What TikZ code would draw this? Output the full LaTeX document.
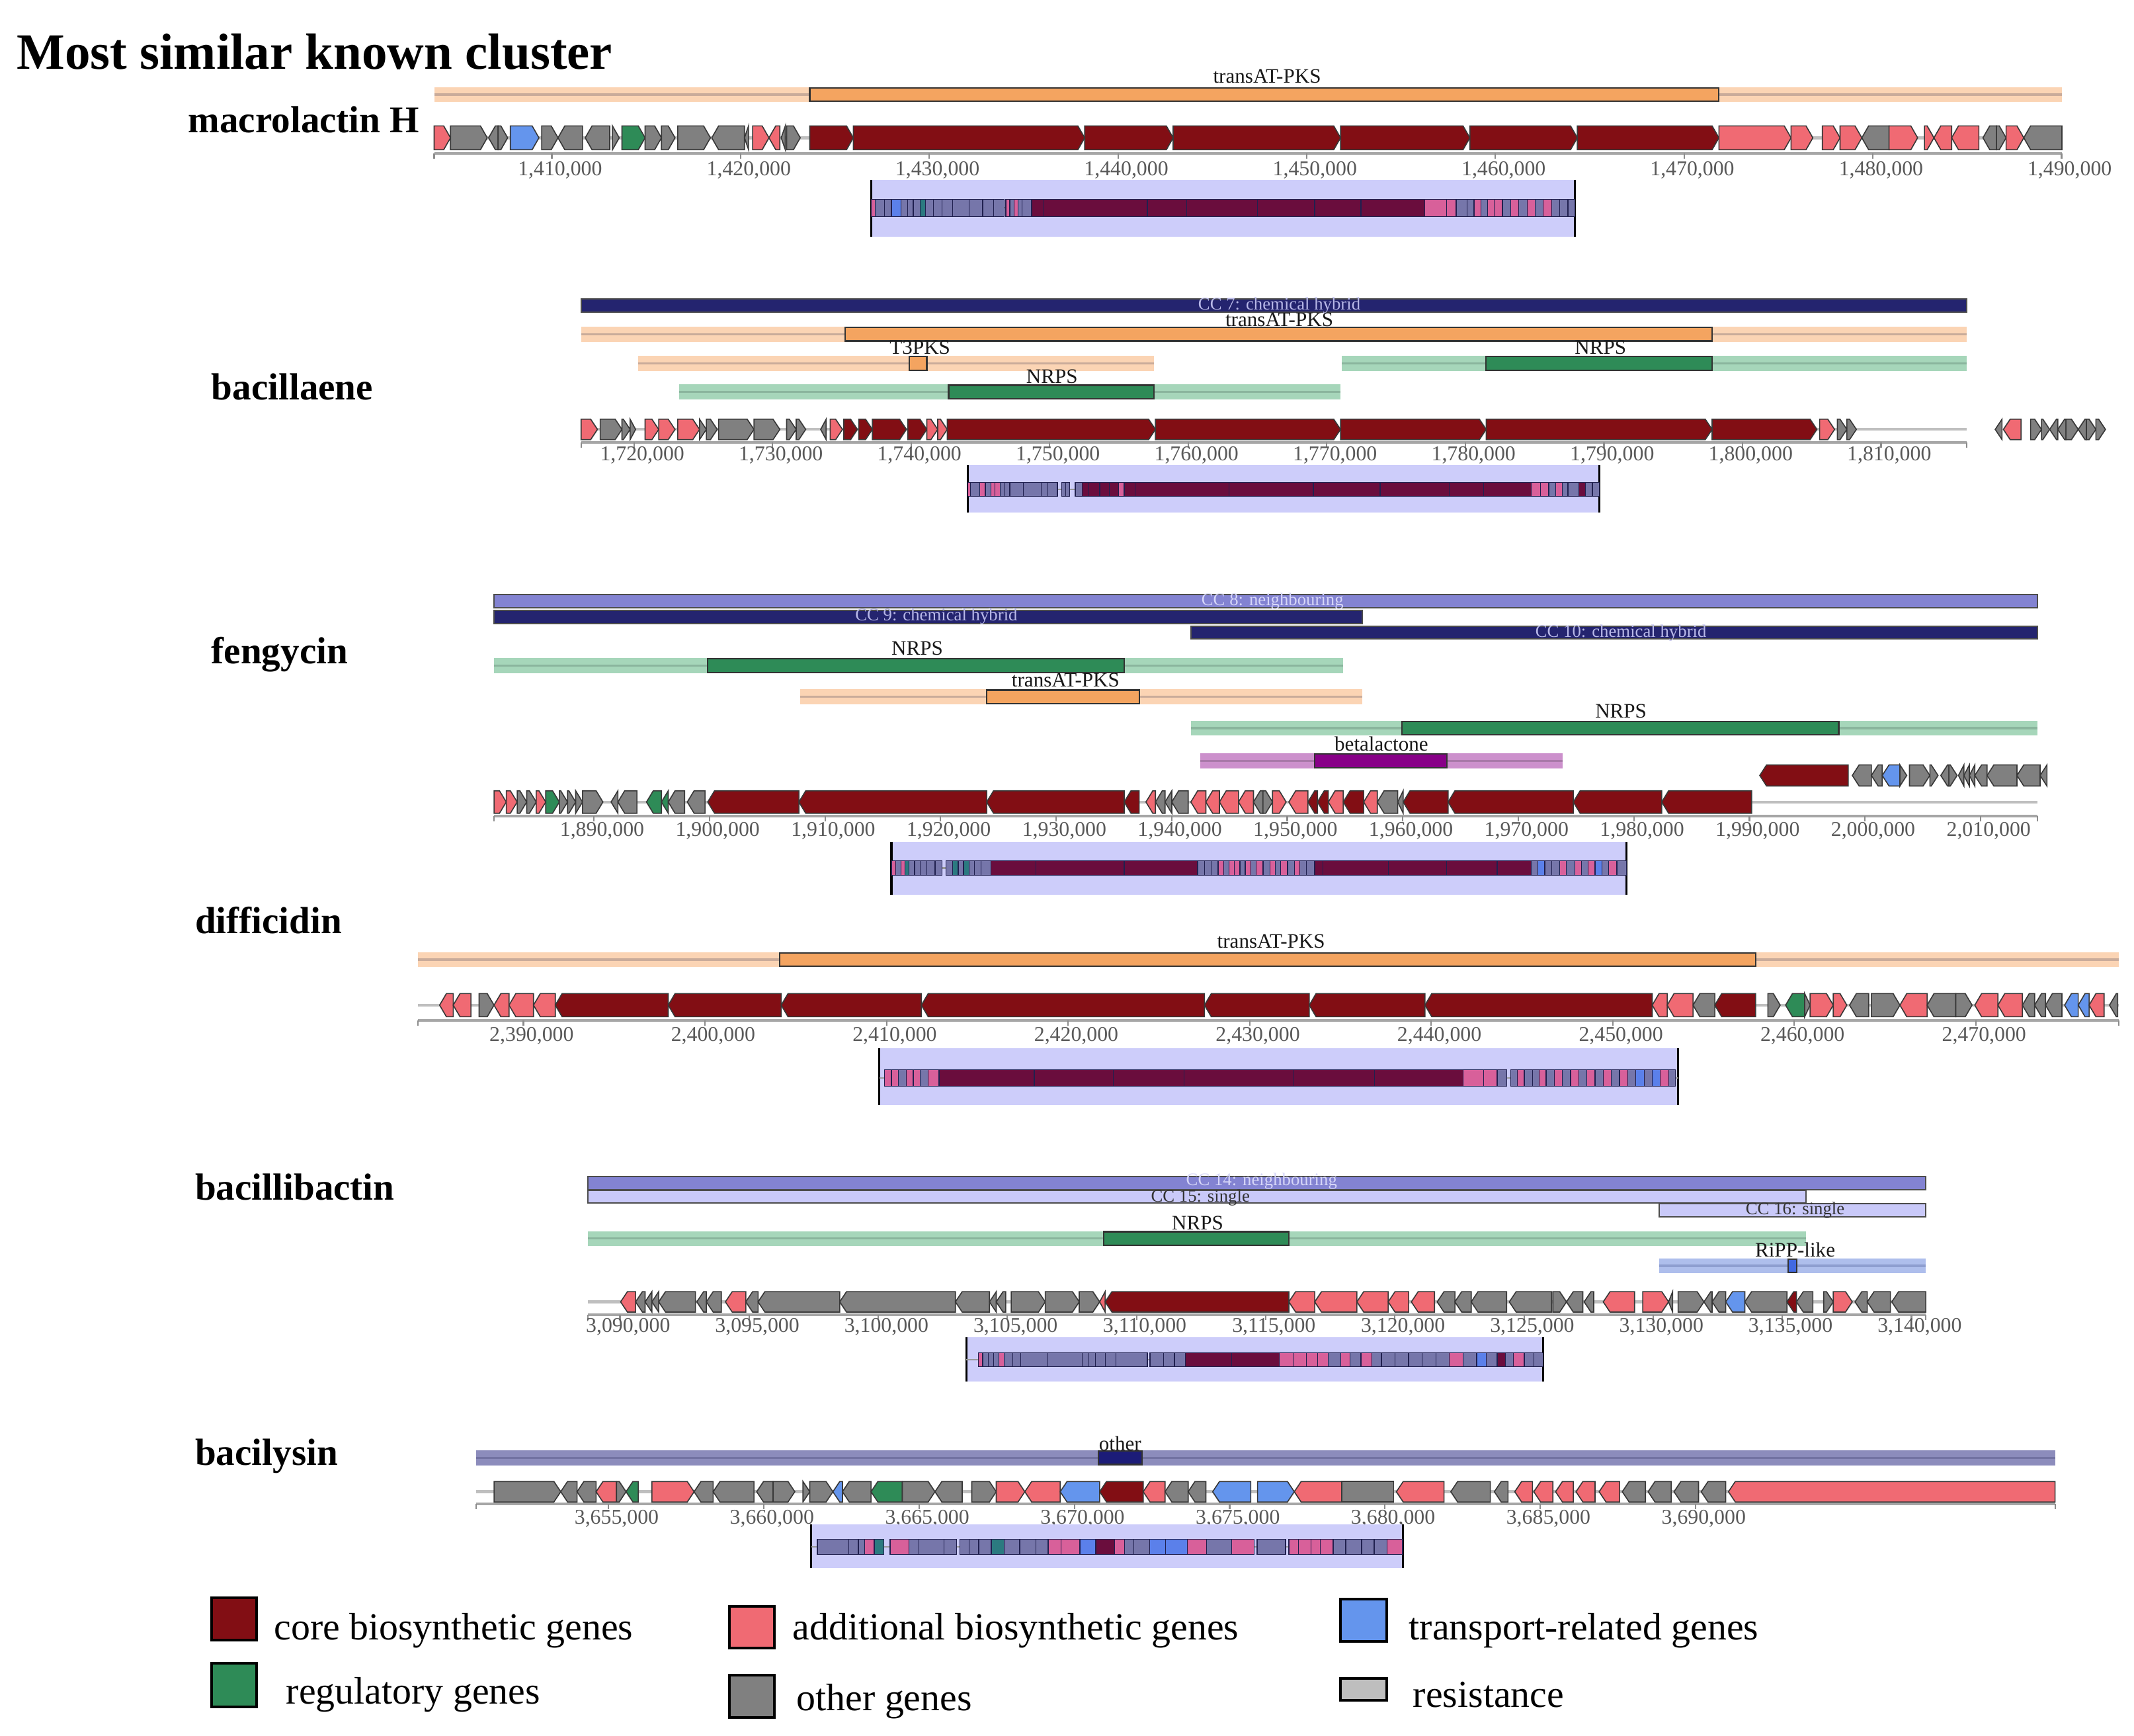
\documentclass[tikz,border=0pt]{standalone}
\usepackage{fontspec}
\setmainfont{Liberation Serif}
\definecolor{cC}{HTML}{820E14}
\definecolor{cP}{HTML}{F06A73}
\definecolor{cG}{HTML}{808080}
\definecolor{cB}{HTML}{6495ED}
\definecolor{cGr}{HTML}{2E8B57}
\definecolor{cR}{HTML}{BEBEBE}
\definecolor{lOr}{HTML}{FBD4B4}
\definecolor{lOrL}{HTML}{C9AB9A}
\definecolor{dOr}{HTML}{F4A460}
\definecolor{lGn}{HTML}{A6D6BA}
\definecolor{lGnL}{HTML}{8AB59D}
\definecolor{dGn}{HTML}{2E8B57}
\definecolor{navyC}{HTML}{24246F}
\definecolor{nbC}{HTML}{8383D2}
\definecolor{sgC}{HTML}{C9C9F9}
\definecolor{lPu}{HTML}{CC90CC}
\definecolor{lPuL}{HTML}{A878A8}
\definecolor{dPu}{HTML}{880088}
\definecolor{lBl}{HTML}{AEBEEC}
\definecolor{lBlL}{HTML}{8E9ED0}
\definecolor{dBl}{HTML}{4169E1}
\definecolor{otC}{HTML}{8C8CBC}
\definecolor{otL}{HTML}{7272A2}
\definecolor{otD}{HTML}{1C1C78}
\definecolor{lav}{HTML}{CDCDFA}
\definecolor{sN}{HTML}{20204F}
\definecolor{sC}{HTML}{6A0D3D}
\definecolor{sP}{HTML}{D8609A}
\definecolor{sL}{HTML}{7676AA}
\definecolor{sB}{HTML}{5B80EA}
\definecolor{sT}{HTML}{2B7A80}
\definecolor{ccTxt}{HTML}{B8B8E8}
\definecolor{nbTxt}{HTML}{D6D6F8}
\tikzset{
  gene/.style={draw=black!78,line width=0.45pt,line join=miter},
  tickl/.style={draw=black!45,line width=0.6pt},
  axisl/.style={draw=black!35,line width=1.1pt},
  bbone/.style={draw=black!25,line width=1.2pt},
  tlab/.style={font=\fontsize{8.8}{10}\selectfont,text=black!65,inner sep=0pt},
  blab/.style={font=\fontsize{8.6}{10}\selectfont,text=black!90,inner sep=0pt},
  cclab/.style={font=\fontsize{7.4}{8}\selectfont,inner sep=0pt},
  cname/.style={font=\bfseries\fontsize{15.8}{18}\selectfont,anchor=west,inner sep=0pt},
  legt/.style={font=\fontsize{16}{19}\selectfont,anchor=west,inner sep=0pt},
  legsq/.style={draw=black,line width=1.1pt},
}
\def\ah{5}
\newcommand\GR[3]{\filldraw[gene,fill=#3] (#1,\grt) -- ({max(#1,#2-\ah)},\grt) -- (#2,\grm) -- ({max(#1,#2-\ah)},\grb) -- (#1,\grb) -- cycle;}
\newcommand\GL[3]{\filldraw[gene,fill=#3] (#2,\grt) -- ({min(#2,#1+\ah)},\grt) -- (#1,\grm) -- ({min(#2,#1+\ah)},\grb) -- (#2,\grb) -- cycle;}
\newcommand\GB[3]{\filldraw[gene,fill=#3] (#1,\grt) rectangle (#2,\grb);}
\newcommand\RowY[2]{\def\grt{#1}\def\grb{#2}\pgfmathsetmacro\grm{(#1+#2)/2}}
\newcommand\SG[3]{\filldraw[draw=sN,line width=0.35pt,fill=#3] (#1,\srt) rectangle (#2,\srb);}
\newcommand\StripY[2]{\def\srt{#1}\def\srb{#2}}
\newcommand\LBar[5]{\fill[#4] (#2,#1-5.5) rectangle (#3,#1+5.5); \draw[#5,line width=0.9pt] (#2,#1) -- (#3,#1);}
\newcommand\DBox[4]{\filldraw[draw=black!80,line width=0.6pt,fill=#4] (#2,#1-5) rectangle (#3,#1+5);}
\newcommand\Lav[4]{\fill[lav] (#1,#3) rectangle (#2,#4); \draw[black,line width=0.9pt] (#1,#3) -- (#1,#4) (#2,#3) -- (#2,#4);}
\newcommand\AxisL[3]{\draw[axisl] (#1,#3) -- (#2,#3); \draw[tickl] (#1,#3) -- (#1,#3+4) (#2,#3) -- (#2,#3+4);}
\begin{document}
\begin{tikzpicture}[x=0.02cm,y=-0.02cm]
\useasboundingbox (0,0) rectangle (1568,1275);
\fill[white] (0,0) rectangle (1568,1275);

\node[anchor=west,inner sep=0pt,font=\bfseries\fontsize{21.3}{24}\selectfont] (title) at (12,38) {Most similar known cluster};

%% ================= macrolactin H =================
\node[cname] (n1) at (138,88) {macrolactin H};
\LBar{69.5}{319}{1515}{lOr}{lOrL}
\DBox{69.5}{595}{1263}{dOr}
\node[blab] (m1) at (931,56) {transAT-PKS};
\draw[bbone] (319,101.25) -- (1515,101.25);
\RowY{92.5}{110}
\GR{319}{331}{cP}\GR{331}{358}{cG}\GL{359}{366}{cG}\GR{366}{373}{cG}\GR{375}{396}{cB}
\GR{398}{410}{cG}\GL{410}{428}{cG}\GL{430}{448}{cG}\GR{450}{455}{cG}\GR{457}{474}{cGr}
\GR{474}{486}{cG}\GR{486}{496}{cG}\GR{498}{522}{cG}\GL{523}{547}{cG}\GL{547}{550}{cG}
\GR{553}{565}{cP}\GL{565}{573}{cP}\GL{574}{577}{cG}\GR{578}{588}{cG}
\GR{595}{627}{cC}\GR{627}{797}{cC}\GR{797}{862}{cC}\GR{862}{985}{cC}\GR{985}{1080}{cC}
\GR{1080}{1159}{cC}\GR{1159}{1263}{cC}
\GR{1263}{1316}{cP}\GR{1316}{1332}{cP}\GR{1339}{1352}{cP}\GR{1352}{1368}{cP}\GL{1368}{1388}{cG}
\GR{1388}{1409}{cP}\GR{1414}{1421}{cP}\GL{1421}{1434}{cP}\GL{1434}{1454}{cP}\GL{1457}{1467}{cG}
\GR{1467}{1474}{cG}\GR{1474}{1487}{cP}\GL{1487}{1515}{cG}
\AxisL{319}{1515}{112.5}
\foreach \x/\t in {405.5/{1,410,000},544.2/{1,420,000},682.8/{1,430,000},821.5/{1,440,000},960.1/{1,450,000},1098.8/{1,460,000},1237.4/{1,470,000},1376.1/{1,480,000},1514.7/{1,490,000}}
 {\draw[tickl] (\x,112.5) -- (\x,116.5); \node[tlab] at (\x+6,125) {\t};}
\Lav{640}{1157}{132}{174}
\draw[black!40,line width=0.6pt] (640,152.75) -- (1157,152.75);
\StripY{146.5}{159}
\SG{640}{643}{sP}\SG{643}{650}{sL}\SG{650}{655}{sL}\SG{655}{662}{sB}\SG{662}{667}{sL}\SG{667}{671}{sL}\SG{671}{676}{sL}\SG{676}{680}{sT}\SG{680}{686}{sL}\SG{686}{692}{sL}\SG{692}{700}{sL}\SG{700}{712}{sL}\SG{712}{722}{sL}\SG{722}{730}{sL}\SG{730}{738}{sL}\SG{739}{742}{sP}\SG{742}{745}{sL}\SG{745}{748}{sP}\SG{748}{751}{sL}\SG{751}{758}{sL}
\SG{758}{767}{sC}\SG{767}{843}{sC}\SG{843}{872}{sC}\SG{872}{924}{sC}\SG{924}{966}{sC}\SG{966}{1000}{sC}\SG{1000}{1047}{sC}
\SG{1047}{1063}{sP}\SG{1063}{1070}{sP}\SG{1070}{1078}{sL}\SG{1078}{1083}{sL}\SG{1083}{1088}{sP}\SG{1088}{1093}{sL}\SG{1093}{1098}{sP}\SG{1098}{1104}{sP}\SG{1104}{1110}{sL}\SG{1110}{1116}{sP}\SG{1116}{1122}{sL}\SG{1122}{1128}{sP}\SG{1128}{1134}{sL}\SG{1134}{1140}{sP}\SG{1140}{1146}{sL}\SG{1146}{1152}{sL}\SG{1152}{1157}{sL}

%% ================= bacillaene =================
\node[cname] (n2) at (155,284) {bacillaene};
\filldraw[draw=black!70,line width=0.5pt,fill=navyC] (427,219.5) rectangle (1445,229.5);
\node[cclab,text=ccTxt] (b0) at (940,224.5) {CC 7: chemical hybrid};
\LBar{245.5}{427}{1445}{lOr}{lOrL}
\DBox{245.5}{621}{1258}{dOr}
\node[blab] (b1) at (940,235) {transAT-PKS};
\LBar{267}{469}{848}{lOr}{lOrL}
\DBox{267}{668}{681}{dOr}
\node[blab] (b2) at (676,255.5) {T3PKS};
\LBar{267}{986}{1445}{lGn}{lGnL}
\DBox{267}{1092}{1258}{dGn}
\node[blab] (b3) at (1176,255.5) {NRPS};
\LBar{288}{499}{985}{lGn}{lGnL}
\DBox{288}{697}{848}{dGn}
\node[blab] (b4) at (773,276.5) {NRPS};
\draw[bbone] (427,315.5) -- (1445,315.5);
\RowY{308}{323}
\GR{427}{439}{cP}\GR{441}{457}{cG}\GR{457}{463}{cG}\GR{463}{467}{cG}\GR{474}{484}{cP}\GR{484}{496}{cP}
\GR{498}{514}{cP}\GR{514}{519}{cG}\GR{519}{527}{cG}\GR{528}{554}{cG}\GR{554}{573}{cG}\GR{578}{585}{cG}
\GR{585}{592}{cG}\GL{603}{607}{cG}\GR{610}{619}{cP}\GR{620}{630}{cC}\GR{631}{641}{cC}\GR{641}{666}{cC}
\GR{667}{681}{cC}\GR{681}{689}{cP}\GR{689}{696}{cP}\GR{696}{849}{cC}\GR{849}{985}{cC}\GR{985}{1092}{cC}
\GR{1092}{1258}{cC}\GR{1258}{1335}{cC}\GR{1337}{1348}{cP}\GR{1350}{1357}{cG}\GR{1357}{1364}{cG}
\GL{1466}{1471}{cG}\GL{1472}{1485}{cP}\GR{1492}{1500}{cG}\GR{1500}{1506}{cG}\GL{1506}{1512}{cG}
\GL{1512}{1518}{cG}\GR{1518}{1527}{cG}\GL{1527}{1533}{cG}\GR{1533}{1540}{cG}\GR{1540}{1547}{cG}
\AxisL{427}{1445}{325}
\foreach \x/\t in {465.9/{1,720,000},567.7/{1,730,000},669.5/{1,740,000},771.3/{1,750,000},873.1/{1,760,000},974.9/{1,770,000},1076.7/{1,780,000},1178.5/{1,790,000},1280.3/{1,800,000},1382.1/{1,810,000}}
 {\draw[tickl] (\x,325) -- (\x,329); \node[tlab] at (\x+6,334.5) {\t};}
\Lav{711}{1175}{341.5}{376.5}
\draw[black!40,line width=0.6pt] (711,359.5) -- (1175,359.5);
\StripY{354.5}{364.5}
\SG{711}{713}{sP}\SG{713}{720}{sL}\SG{720}{724}{sP}\SG{724}{728}{sL}\SG{728}{731}{sP}\SG{731}{735}{sP}\SG{735}{738}{sL}\SG{738}{742}{sL}\SG{742}{752}{sL}\SG{752}{765}{sL}\SG{765}{770}{sL}\SG{770}{777}{sL}\SG{780}{783}{sL}\SG{783}{786}{sL}\SG{790}{795}{sL}
\SG{795}{800}{sC}\SG{800}{808}{sC}\SG{808}{815}{sC}\SG{815}{822}{sC}\SG{822}{826}{sP}\SG{826}{834}{sC}
\SG{834}{903}{sC}\SG{903}{965}{sC}\SG{965}{1014}{sC}\SG{1014}{1065}{sC}\SG{1065}{1090}{sC}\SG{1090}{1125}{sC}
\SG{1125}{1132}{sP}\SG{1132}{1138}{sP}\SG{1138}{1143}{sL}\SG{1143}{1148}{sP}\SG{1148}{1152}{sL}\SG{1152}{1160}{sL}\SG{1160}{1165}{sC}\SG{1165}{1170}{sL}\SG{1170}{1175}{sL}

%% ================= fengycin =================
\node[cname] (n3) at (155,481) {fengycin};
\filldraw[draw=black!70,line width=0.5pt,fill=nbC] (363,437) rectangle (1497,446.5);
\node[cclab,text=nbTxt] (f0) at (935,441.5) {CC 8: neighbouring};
\filldraw[draw=black!70,line width=0.5pt,fill=navyC] (363,448.5) rectangle (1001,458);
\node[cclab,text=ccTxt] (f1) at (688,453) {CC 9: chemical hybrid};
\filldraw[draw=black!70,line width=0.5pt,fill=navyC] (875,460) rectangle (1497,469.5);
\node[cclab,text=ccTxt] (f2) at (1191,465) {CC 10: chemical hybrid};
\LBar{489}{363}{987}{lGn}{lGnL}
\DBox{489}{520}{826}{dGn}
\node[blab] (f3) at (674,476.5) {NRPS};
\LBar{512}{588}{1001}{lOr}{lOrL}
\DBox{512}{725}{837}{dOr}
\node[blab] (f4) at (783,499.5) {transAT-PKS};
\LBar{535}{875}{1497}{lGn}{lGnL}
\DBox{535}{1030}{1351}{dGn}
\node[blab] (f5) at (1191,522.5) {NRPS};
\LBar{559}{882}{1148}{lPu}{lPuL}
\DBox{559}{966}{1063}{dPu}
\node[blab] (f6) at (1015,546.5) {betalactone};
\RowY{562}{577.5}
\GL{1293}{1358}{cC}\GL{1361}{1375}{cG}\GL{1375}{1383}{cG}\GL{1383}{1396}{cB}\GR{1396}{1401}{cG}
\GR{1403}{1418}{cG}\GR{1418}{1424}{cG}\GL{1426}{1432}{cG}\GR{1432}{1438}{cG}\GL{1439}{1443}{cG}
\GL{1443}{1447}{cG}\GL{1447}{1451}{cG}\GL{1451}{1460}{cG}\GL{1460}{1482}{cG}\GL{1482}{1499}{cG}\GL{1499}{1504}{cG}
\draw[bbone] (363,589.25) -- (1497,589.25);
\RowY{581}{597.5}
\GR{363}{372}{cP}\GR{372}{380}{cP}\GR{380}{387}{cG}\GR{387}{394}{cG}\GR{394}{401}{cP}\GR{401}{411}{cGr}
\GR{411}{417}{cG}\GR{417}{423}{cG}\GR{423}{428}{cG}\GR{428}{443}{cG}\GL{449}{454}{cG}\GL{454}{468}{cG}
\GL{475}{486}{cGr}\GL{486}{491}{cGr}\GL{491}{503}{cG}\GL{505}{518}{cG}
\GL{520}{587}{cC}\GL{587}{725}{cC}\GL{725}{826}{cC}\GL{826}{837}{cC}
\GL{842}{849}{cP}\GL{849}{856}{cG}\GL{856}{861}{cG}\GL{861}{873}{cG}\GL{875}{886}{cP}\GL{886}{896}{cP}
\GL{896}{910}{cP}\GL{910}{921}{cP}\GL{921}{928}{cG}\GR{928}{935}{cG}\GR{935}{945}{cP}\GL{947}{961}{cP}
\GL{961}{968}{cC}\GL{968}{976}{cC}\GL{976}{987}{cP}\GL{987}{1002}{cC}\GL{1002}{1012}{cP}\GL{1012}{1027}{cG}
\GL{1027}{1031}{cG}\GL{1031}{1064}{cC}\GL{1064}{1156}{cC}\GL{1156}{1221}{cC}\GL{1221}{1287}{cC}
\AxisL{363}{1497}{599.5}
\foreach \x/\t in {436.4/{1,890,000},521.3/{1,900,000},606.2/{1,910,000},691.1/{1,920,000},776.0/{1,930,000},860.9/{1,940,000},945.8/{1,950,000},1030.7/{1,960,000},1115.6/{1,970,000},1200.5/{1,980,000},1285.4/{1,990,000},1370.3/{2,000,000},1455.2/{2,010,000}}
 {\draw[tickl] (\x,599.5) -- (\x,603.5); \node[tlab] at (\x+6,610.5) {\t};}
\Lav{655}{1195}{618.5}{657.5}
\draw[black!40,line width=0.6pt] (655,637.75) -- (1195,637.75);
\StripY{632.5}{643}
\SG{655}{658}{sP}\SG{658}{662}{sL}\SG{662}{665}{sP}\SG{665}{668}{sT}\SG{668}{672}{sL}\SG{672}{676}{sL}\SG{676}{681}{sL}\SG{681}{687}{sL}\SG{687}{692}{sL}\SG{695}{700}{sL}\SG{700}{704}{sT}\SG{704}{708}{sL}\SG{708}{712}{sT}\SG{712}{716}{sL}\SG{716}{721}{sL}\SG{721}{728}{sL}
\SG{728}{761}{sC}\SG{761}{826}{sC}\SG{826}{880}{sC}
\SG{880}{885}{sL}\SG{885}{890}{sL}\SG{890}{895}{sL}\SG{895}{899}{sP}\SG{899}{903}{sL}\SG{903}{907}{sP}\SG{907}{911}{sP}\SG{911}{915}{sL}\SG{915}{919}{sP}\SG{919}{923}{sL}\SG{923}{928}{sP}\SG{928}{933}{sL}\SG{933}{937}{sP}\SG{937}{941}{sL}\SG{941}{946}{sP}\SG{946}{951}{sL}\SG{951}{955}{sP}\SG{955}{960}{sL}\SG{960}{966}{sL}\SG{966}{972}{sC}
\SG{972}{1020}{sC}\SG{1020}{1063}{sC}\SG{1063}{1100}{sC}\SG{1100}{1125}{sC}
\SG{1125}{1130}{sL}\SG{1130}{1135}{sB}\SG{1135}{1140}{sL}\SG{1140}{1146}{sL}\SG{1146}{1151}{sP}\SG{1151}{1157}{sL}\SG{1157}{1162}{sP}\SG{1162}{1167}{sL}\SG{1167}{1172}{sP}\SG{1172}{1177}{sB}\SG{1177}{1182}{sL}\SG{1182}{1188}{sP}\SG{1188}{1195}{sL}

%% ================= difficidin =================
\node[cname] (n4) at (143,676) {difficidin};
\LBar{705}{307}{1557}{lOr}{lOrL}
\DBox{705}{573}{1290}{dOr}
\node[blab] (d1) at (934,691.5) {transAT-PKS};
\draw[bbone] (307,738.5) -- (1557,738.5);
\RowY{730}{747}
\GL{323}{333}{cP}\GL{333}{346}{cP}\GR{352}{363}{cG}\GL{363}{374}{cP}\GL{374}{392}{cP}\GL{392}{408}{cP}
\GL{408}{491}{cC}\GL{491}{574}{cC}\GL{574}{677}{cC}\GL{677}{885}{cC}\GL{885}{962}{cC}\GL{962}{1047}{cC}\GL{1047}{1214}{cC}
\GL{1214}{1225}{cP}\GL{1225}{1244}{cP}\GL{1244}{1260}{cG}\GL{1260}{1290}{cC}
\GR{1299}{1308}{cG}\GL{1312}{1326}{cGr}\GR{1326}{1330}{cG}\GR{1330}{1347}{cP}\GR{1347}{1357}{cP}
\GL{1359}{1373}{cG}\GR{1375}{1396}{cG}\GL{1396}{1416}{cP}\GL{1416}{1437}{cG}\GR{1437}{1449}{cG}
\GL{1451}{1468}{cP}\GL{1468}{1486}{cP}\GL{1486}{1495}{cG}\GL{1495}{1503}{cG}\GL{1503}{1515}{cG}
\GL{1517}{1527}{cB}\GL{1527}{1535}{cB}\GL{1535}{1546}{cP}\GL{1550}{1556}{cG}
\AxisL{307}{1557}{749.5}
\foreach \x/\t in {384.6/{2,390,000},518/{2,400,000},651.4/{2,410,000},784.8/{2,420,000},918.2/{2,430,000},1051.6/{2,440,000},1185/{2,450,000},1318.4/{2,460,000},1451.8/{2,470,000}}
 {\draw[tickl] (\x,749.5) -- (\x,753.5); \node[tlab] at (\x+6,761) {\t};}
\Lav{646}{1233}{770}{812}
\draw[black!40,line width=0.6pt] (646,792) -- (1233,792);
\StripY{786}{798}
\SG{650}{655}{sP}\SG{655}{660}{sP}\SG{660}{666}{sL}\SG{666}{671}{sP}\SG{671}{676}{sP}\SG{676}{682}{sL}\SG{682}{690}{sP}
\SG{690}{760}{sC}\SG{760}{818}{sC}\SG{818}{870}{sC}\SG{870}{950}{sC}\SG{950}{1010}{sC}\SG{1010}{1075}{sC}
\SG{1075}{1090}{sP}\SG{1090}{1100}{sP}\SG{1100}{1107}{sL}
\SG{1110}{1115}{sL}\SG{1115}{1120}{sP}\SG{1120}{1126}{sL}\SG{1126}{1131}{sL}\SG{1131}{1136}{sP}\SG{1136}{1142}{sL}\SG{1142}{1148}{sP}\SG{1148}{1154}{sL}\SG{1154}{1160}{sP}\SG{1160}{1166}{sL}\SG{1166}{1172}{sP}\SG{1172}{1178}{sL}\SG{1178}{1184}{sP}\SG{1184}{1190}{sL}\SG{1190}{1196}{sP}\SG{1196}{1202}{sL}\SG{1202}{1208}{sB}\SG{1208}{1214}{sL}\SG{1214}{1220}{sB}\SG{1220}{1226}{sP}\SG{1226}{1231}{sL}

%% ================= bacillibactin =================
\node[cname] (n5) at (143,872) {bacillibactin};
\filldraw[draw=black!70,line width=0.5pt,fill=nbC] (432,864.5) rectangle (1415,874);
\node[cclab,text=nbTxt] (c0) at (927,867.8) {CC 14: neighbouring};
\filldraw[draw=black!70,line width=0.5pt,fill=sgC] (432,874.5) rectangle (1327,884);
\node[cclab,text=black!80] (c1) at (882,880) {CC 15: single};
\filldraw[draw=black!70,line width=0.5pt,fill=sgC] (1219,884.5) rectangle (1415,894);
\node[cclab,text=black!80] (c2) at (1319,889) {CC 16: single};
\LBar{910}{432}{1327}{lGn}{lGnL}
\DBox{910}{811}{947}{dGn}
\node[blab] (c3) at (880,898.5) {NRPS};
\LBar{930}{1219}{1415}{lBl}{lBlL}
\DBox{930}{1314}{1320}{dBl}
\node[blab] (c4) at (1319,918.5) {RiPP-like};
\draw[bbone] (432,956.5) -- (1415,956.5);
\RowY{949}{964}
\GL{456}{467}{cP}\GL{467}{474}{cG}\GL{474}{479}{cG}\GL{479}{484}{cG}\GL{484}{511}{cG}\GL{512}{519}{cG}
\GL{519}{530}{cG}\GL{533}{548}{cP}\GL{548}{557}{cG}\GL{557}{617}{cG}\GL{617}{702}{cG}\GL{702}{727}{cG}
\GL{727}{732}{cG}\GL{732}{739}{cG}\GR{743}{768}{cG}\GR{768}{793}{cG}\GR{793}{808}{cG}\GL{808}{812}{cP}
\GL{812}{947}{cC}\GL{947}{966}{cP}\GL{966}{997}{cP}\GL{997}{1020}{cP}\GL{1020}{1035}{cP}\GL{1037}{1054}{cP}
\GL{1056}{1069}{cG}\GL{1069}{1081}{cG}\GL{1081}{1107}{cG}\GL{1109}{1140}{cG}\GR{1141}{1151}{cG}
\GL{1151}{1163}{cG}\GL{1164}{1171}{cG}\GL{1178}{1201}{cP}\GR{1207}{1226}{cP}\GL{1226}{1229}{cG}
\GR{1233}{1252}{cG}\GL{1252}{1258}{cG}\GL{1258}{1268}{cG}\GL{1268}{1282}{cB}\GL{1282}{1313}{cG}
\GL{1313}{1320}{cC}\GL{1320}{1332}{cG}\GR{1340}{1347}{cG}\GR{1347}{1361}{cP}\GL{1363}{1372}{cG}
\GL{1372}{1389}{cG}\GL{1390}{1415}{cG}
\AxisL{432}{1415}{966}
\foreach \x/\t in {455.5/{3,090,000},550.4/{3,095,000},645.3/{3,100,000},740.2/{3,105,000},835.1/{3,110,000},930.0/{3,115,000},1024.9/{3,120,000},1119.8/{3,125,000},1214.7/{3,130,000},1309.6/{3,135,000},1404.5/{3,140,000}}
 {\draw[tickl] (\x,966) -- (\x,970); \node[tlab] at (\x+6,975) {\t};}
\Lav{710}{1134}{982.5}{1015}
\draw[black!40,line width=0.6pt] (710,999) -- (1134,999);
\StripY{994}{1004}
\SG{719}{722}{sP}\SG{722}{726}{sL}\SG{726}{730}{sL}\SG{730}{734}{sL}\SG{734}{738}{sP}\SG{738}{744}{sL}\SG{744}{750}{sL}\SG{750}{770}{sL}\SG{770}{795}{sL}\SG{795}{800}{sL}\SG{800}{805}{sL}\SG{805}{812}{sL}\SG{812}{820}{sL}\SG{820}{843}{sL}
\SG{845}{855}{sL}\SG{855}{863}{sL}\SG{863}{871}{sL}\SG{871}{905}{sC}\SG{905}{940}{sC}
\SG{940}{950}{sP}\SG{950}{960}{sP}\SG{960}{968}{sP}\SG{968}{976}{sP}\SG{976}{985}{sL}\SG{985}{992}{sP}\SG{992}{1000}{sL}\SG{1000}{1008}{sP}\SG{1008}{1015}{sL}\SG{1015}{1025}{sL}\SG{1025}{1035}{sL}\SG{1035}{1045}{sL}\SG{1045}{1055}{sL}\SG{1055}{1065}{sL}\SG{1065}{1075}{sP}\SG{1075}{1085}{sL}\SG{1085}{1092}{sB}\SG{1092}{1100}{sL}\SG{1100}{1106}{sC}\SG{1106}{1112}{sL}\SG{1112}{1120}{sP}\SG{1120}{1127}{sL}\SG{1127}{1134}{sL}

%% ================= bacilysin =================
\node[cname] (n6) at (143,1070) {bacilysin};
\LBar{1071}{350}{1510}{otC}{otL}
\DBox{1071}{807}{839}{otD}
\node[blab] (y1) at (823,1060.5) {other};
\draw[bbone] (350,1096) -- (1510,1096);
\RowY{1088.5}{1103.5}
\GR{363}{412}{cG}\GL{412}{424}{cG}\GL{424}{438}{cG}\GL{438}{453}{cP}\GR{453}{460}{cG}\GL{460}{469}{cGr}
\GR{479}{510}{cP}\GL{510}{524}{cG}\GL{524}{554}{cG}\GL{556}{568}{cG}\GR{568}{584}{cG}\GR{590}{595}{cG}
\GR{595}{612}{cG}\GL{612}{619}{cB}\GL{619}{640}{cG}\GL{640}{663}{cGr}\GR{663}{687}{cG}\GL{687}{707}{cG}
\GR{714}{732}{cG}\GR{732}{753}{cP}\GL{753}{779}{cP}\GL{779}{808}{cB}\GL{808}{840}{cC}\GL{840}{856}{cP}
\GL{856}{873}{cG}\GL{873}{886}{cG}\GL{891}{919}{cB}\GR{924}{951}{cB}\GL{951}{986}{cP}\GB{986}{1024}{cG}
\GL{1026}{1061}{cP}\GL{1066}{1095}{cG}\GL{1098}{1108}{cG}\GL{1113}{1126}{cP}\GL{1127}{1141}{cP}
\GL{1143}{1156}{cP}\GL{1158}{1172}{cP}\GL{1175}{1190}{cP}\GL{1192}{1209}{cG}\GL{1211}{1228}{cG}
\GL{1230}{1248}{cG}\GL{1250}{1268}{cG}\GL{1270}{1510}{cP}
\AxisL{350}{1510}{1105}
\foreach \x/\t in {447.1/{3,655,000},561.2/{3,660,000},675.3/{3,665,000},789.4/{3,670,000},903.5/{3,675,000},1017.6/{3,680,000},1131.7/{3,685,000},1245.8/{3,690,000}}
 {\draw[tickl] (\x,1105) -- (\x,1109); \node[tlab] at (\x+6,1116) {\t};}
\Lav{596}{1031}{1120}{1152}
\draw[black!40,line width=0.6pt] (596,1136.5) -- (1031,1136.5);
\StripY{1131}{1142}
\SG{600.5}{623.8}{sL}\SG{623.8}{630.7}{sL}\SG{630.7}{635.4}{sL}\SG{635.4}{642.4}{sP}\SG{642.4}{649.3}{sT}
\SG{654}{668}{sP}\SG{668}{675}{sL}\SG{675}{693.5}{sL}\SG{693.5}{702.8}{sL}\SG{705.1}{712.1}{sL}\SG{712.1}{719.1}{sL}\SG{719.1}{728.4}{sL}\SG{728.4}{737.7}{sT}\SG{737.7}{749.3}{sL}\SG{749.3}{761}{sL}
\SG{761}{770.2}{sL}\SG{770.2}{779.5}{sP}\SG{779.5}{793.5}{sP}\SG{793.5}{805.1}{sB}\SG{805.1}{819.1}{sC}\SG{819.1}{826.1}{sP}\SG{826.1}{833}{sL}\SG{833}{844.6}{sL}\SG{844.6}{856.3}{sB}\SG{856.3}{872.5}{sB}\SG{872.5}{886.5}{sP}\SG{886.5}{905.1}{sL}\SG{905.1}{921.4}{sP}
\SG{923.7}{944.6}{sL}\SG{947}{953.9}{sP}\SG{953.9}{963.2}{sP}\SG{963.2}{970.2}{sP}\SG{970.2}{979.5}{sP}\SG{979.5}{988.8}{sL}\SG{988.8}{1000.4}{sL}\SG{1000.4}{1009.7}{sL}\SG{1009.7}{1019}{sL}\SG{1019}{1030.6}{sP}

%% ================= legend =================
\filldraw[legsq,fill=cC] (155.5,1174) rectangle (188.5,1205);
\node[legt] (l1) at (201,1198) {core biosynthetic genes};
\filldraw[legsq,fill=cP] (536,1180) rectangle (569,1211);
\node[legt] (l2) at (582,1198) {additional biosynthetic genes};
\filldraw[legsq,fill=cB] (985,1175) rectangle (1019,1206);
\node[legt] (l3) at (1035,1198) {transport-related genes};
\filldraw[legsq,fill=cGr] (155.5,1222) rectangle (188.5,1254);
\node[legt] (l4) at (210,1245) {regulatory genes};
\filldraw[legsq,fill=cG] (536,1231) rectangle (569,1262);
\node[legt] (l5) at (585,1250) {other genes};
\filldraw[legsq,fill=cR] (985,1233) rectangle (1019,1249);
\node[legt] (l6) at (1038,1245) {resistance};
\end{tikzpicture}
\end{document}
